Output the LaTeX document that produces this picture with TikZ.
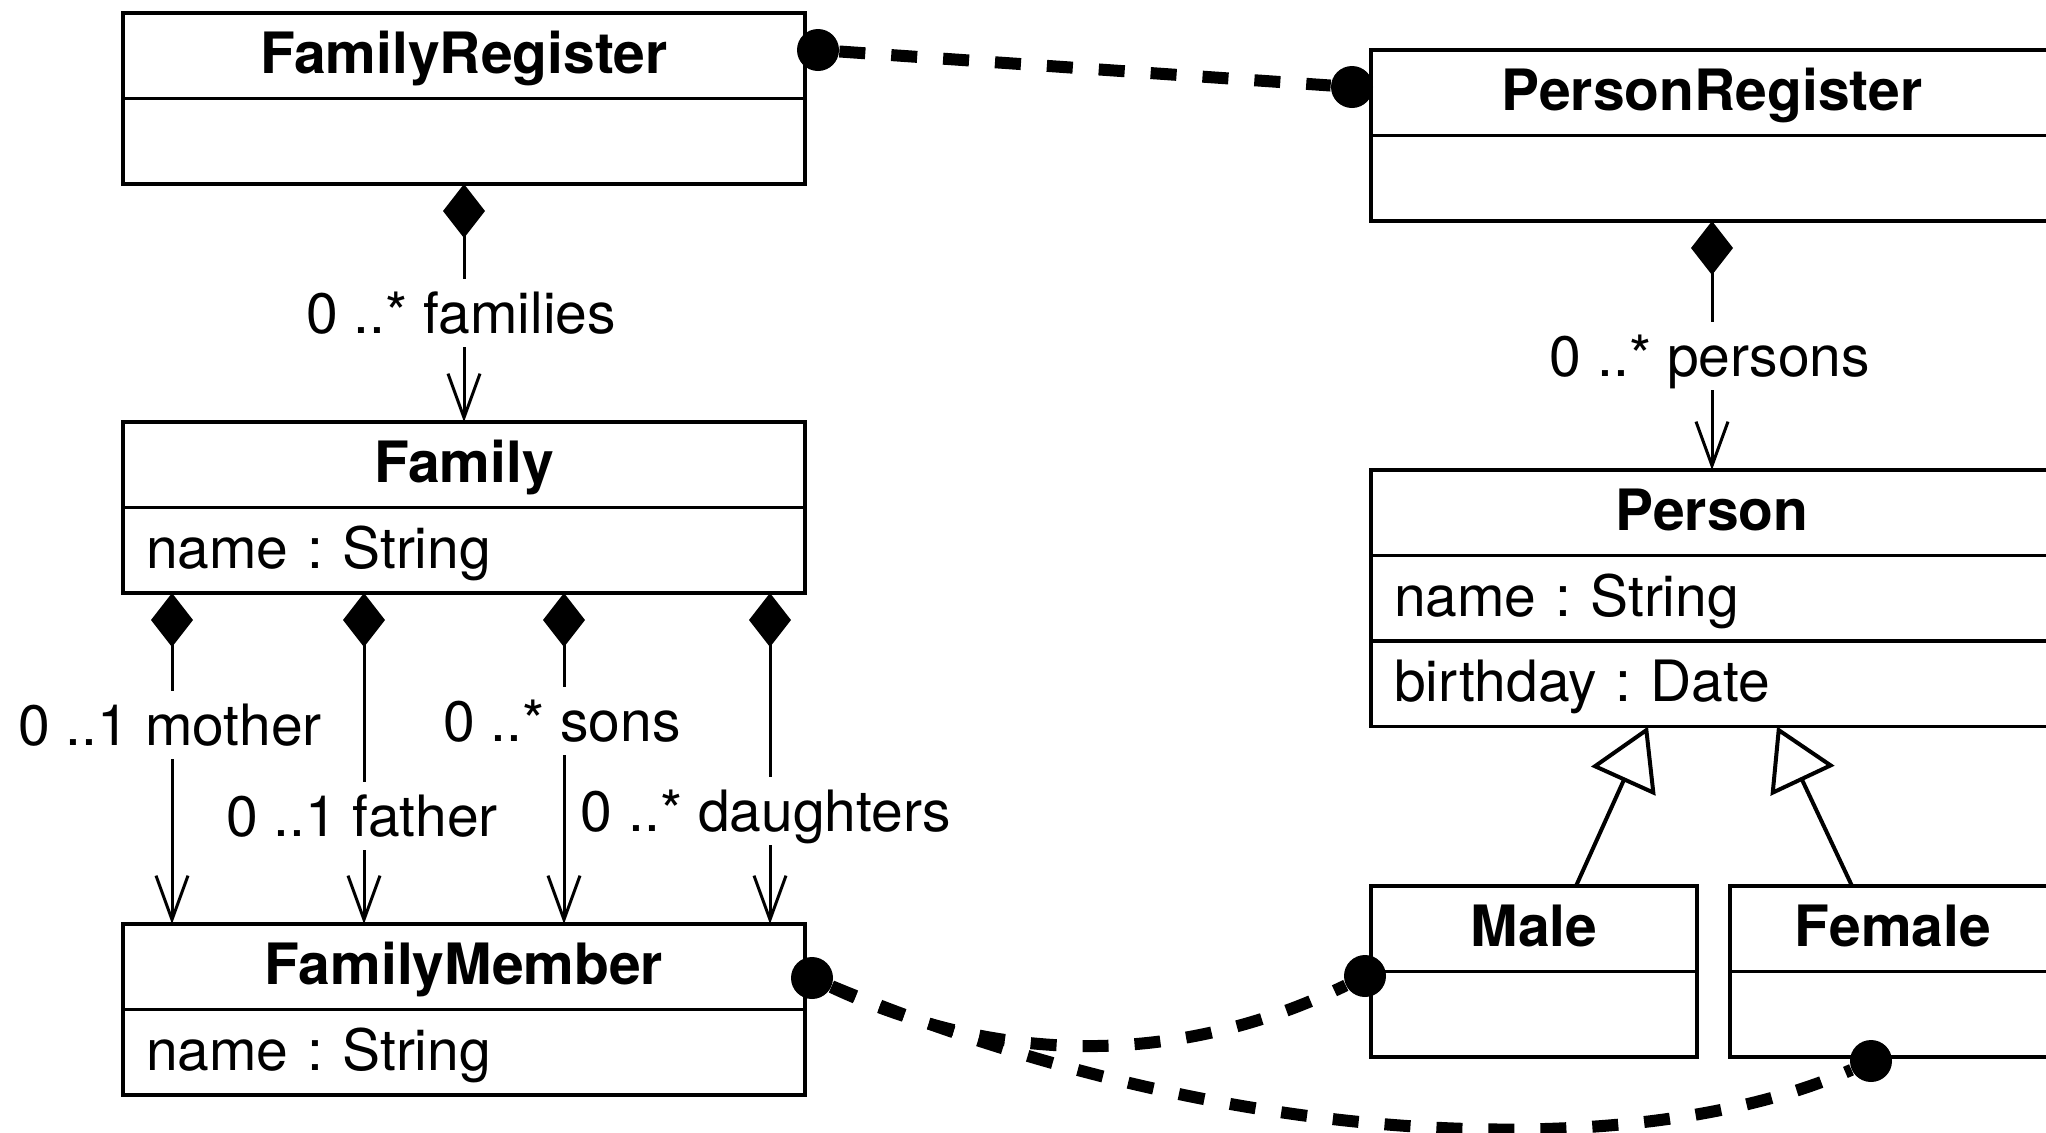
\documentclass[tikz,border=0pt]{standalone}
\usepackage{fontspec}
\setmainfont{TeX Gyre Heros}
\usetikzlibrary{arrows.meta,calc}
\frenchspacing
\begin{document}
\frenchspacing
\begin{tikzpicture}[x=0.5pt,y=-0.5pt,
  every node/.style={font=\fontsize{28.5pt}{34pt}\selectfont},
  comp/.style={draw, line width=1.75pt, rectangle, anchor=north west, outer sep=0pt, inner sep=0pt, minimum height=42.75pt, text height=18pt, text depth=0pt},
  title/.style={comp, font=\fontsize{28.5pt}{34pt}\selectfont\bfseries},
  wide/.style={minimum width=341pt},
  narrow/.style={minimum width=163pt},
  attr/.style={comp, text width=318pt, align=left, inner xsep=11.5pt},
  assoc/.style={line width=1.5pt, {Diamond[length=27pt,width=21pt]}-{Straight Barb[length=22pt,width=16pt]}},
  gen/.style={line width=2pt, -{Triangle[open,length=30pt,width=35pt]}},
  lbl/.style={fill=white, inner xsep=3pt, inner ysep=7pt, text height=20pt, text depth=0pt},
  dot/.style={circle, fill=black, minimum size=21pt, inner sep=0pt},
  link/.style={line width=6pt, dash pattern=on 13pt off 13pt}]
\useasboundingbox (0,0) rectangle (2046,1132);
\clip (0,0) rectangle (2046,1132);

% classes
\node[title,wide] (fr1) at (123,13) {FamilyRegister};
\node[comp,wide] (fr2) at (123,98.5) {};
\node[title,wide] (pr1) at (1371,50) {PersonRegister};
\node[comp,wide] (pr2) at (1371,135.5) {};
\node[title,wide] (fam1) at (123,422) {Family};
\node[attr] (fam2) at (123,507.5) {name : String};
\node[title,wide] (per1) at (1371,470) {Person};
\node[attr] (per2) at (1371,555.5) {name : String};
\node[attr] (per3) at (1371,641) {birthday : Date};
\node[title,wide] (fm1) at (123,924) {FamilyMember};
\node[attr] (fm2) at (123,1009.5) {name : String};
\node[title,narrow] (male1) at (1371,886) {Male};
\node[comp,narrow] (male2) at (1371,971.5) {};
\node[title,narrow] (fem1) at (1730,886) {Female};
\node[comp,narrow] (fem2) at (1730,971.5) {};

% compositions
\draw[assoc] (fr2.south) -- (fam1.north);
\draw[assoc] (pr2.south) -- (per1.north);
\draw[assoc] ($(fam2.south west)+(49,0)$) -- ($(fm1.north west)+(49,0)$);
\draw[assoc] ($(fam2.south west)+(241,0)$) -- ($(fm1.north west)+(241,0)$);
\draw[assoc] ($(fam2.south west)+(441,0)$) -- ($(fm1.north west)+(441,0)$);
\draw[assoc] ($(fam2.south west)+(647,0)$) -- ($(fm1.north west)+(647,0)$);

% labels
\node[lbl] (lfam) at (461,313) {0 ..* families};
\node[lbl] (lper) at (1710,356) {0 ..* persons};
\node[lbl] (lmot) at (170,725) {0 ..1 mother};
\node[lbl] (lfat) at (362,816) {0 ..1 father};
\node[lbl] (lson) at (562,721) {0 ..* sons};
\node[lbl] (ldau) at (766,811) {0 ..* daughters};

% generalizations
\draw[gen] ($(male1.north west)+(205,0)$) -- ($(per3.south west)+(277,0)$);
\draw[gen] ($(fem1.north west)+(122,0)$) -- ($(per3.south west)+(406,0)$);

% links
\node[dot] (d1) at (818,50) {};
\node[dot] (d2) at (1352,87) {};
\node[dot] (d3) at (812,978) {};
\node[dot] (d4) at (1365,976) {};
\node[dot] (d5) at (1871,1061) {};
\draw[link] (d1) -- (d2);
\draw[link] (d3) .. controls (1000,1066) and (1180,1066) .. (d4);
\draw[link] (d3) .. controls (1250,1160) and (1650,1160) .. (d5);
\end{tikzpicture}
\end{document}
